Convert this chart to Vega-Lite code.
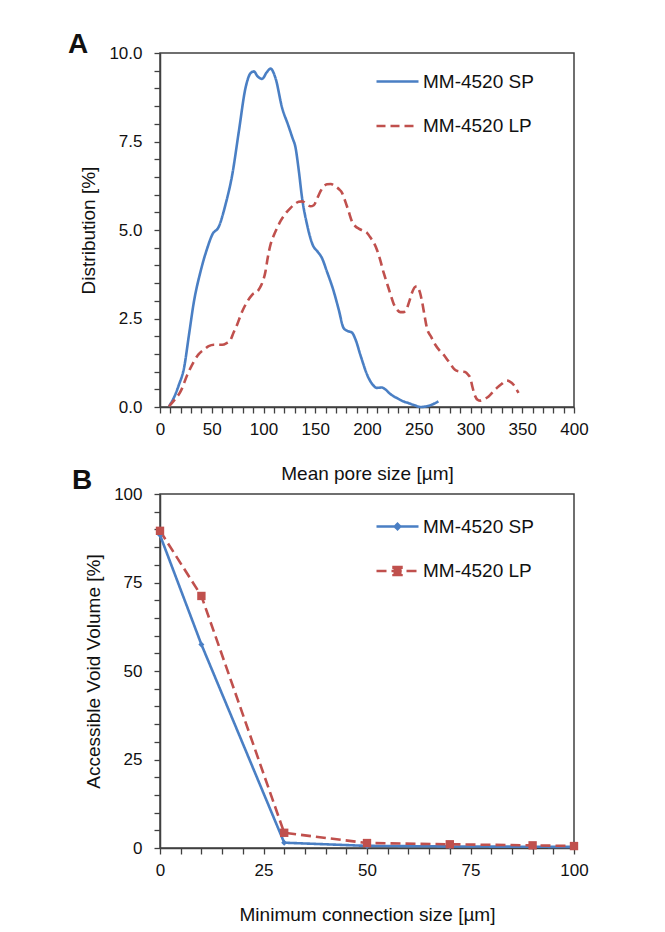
{
  "$schema": "https://vega.github.io/schema/vega-lite/v6.json",
  "padding": {"left": 67, "top": 30, "right": 0, "bottom": 0},
  "autosize": {"type": "pad"},
  "spacing": -18,
  "background": "white",
  "config": {
    "font": "Liberation Sans",
    "view": {"stroke": "#404040", "strokeWidth": 1.5},
    "axis": {
      "grid": false,
      "domainColor": "#404040",
      "domainWidth": 1.5,
      "tickColor": "#404040",
      "tickWidth": 1.3,
      "tickSize": 6,
      "labelFont": "Liberation Sans",
      "labelFontSize": 17,
      "labelColor": "#111111",
      "labelOverlap": false,
      "labelFlush": false,
      "titleFont": "Liberation Sans",
      "titleFontSize": 19,
      "titleFontWeight": "normal",
      "titleColor": "#111111"
    },
    "axisX": {"labelPadding": 8, "titlePadding": 27},
    "axisY": {"labelPadding": 12, "titlePadding": 10},
    "legend": {
      "title": null,
      "orient": "none",
      "labelFont": "Liberation Sans",
      "labelFontSize": 19,
      "labelColor": "#111111",
      "symbolType": "stroke",
      "symbolSize": 1764,
      "symbolStrokeWidth": 2.5,
      "labelOffset": 3,
      "padding": 0,
      "rowPadding": 11.5
    },
    "title": {"font": "Liberation Sans", "fontSize": 28, "fontWeight": "bold", "color": "#111111", "anchor": "start", "frame": "group"}
  },
  "datasets": {
    "dist": [
      {"x": 8.7, "y": 0.02, "series": "MM-4520 SP"},
      {"x": 14, "y": 0.3, "series": "MM-4520 SP"},
      {"x": 18.3, "y": 0.63, "series": "MM-4520 SP"},
      {"x": 23.2, "y": 1.1, "series": "MM-4520 SP"},
      {"x": 28, "y": 2.04, "series": "MM-4520 SP"},
      {"x": 32.8, "y": 2.98, "series": "MM-4520 SP"},
      {"x": 39.2, "y": 3.83, "series": "MM-4520 SP"},
      {"x": 45.7, "y": 4.49, "series": "MM-4520 SP"},
      {"x": 50.5, "y": 4.87, "series": "MM-4520 SP"},
      {"x": 56.9, "y": 5.1, "series": "MM-4520 SP"},
      {"x": 63.3, "y": 5.72, "series": "MM-4520 SP"},
      {"x": 69.8, "y": 6.56, "series": "MM-4520 SP"},
      {"x": 76.2, "y": 7.79, "series": "MM-4520 SP"},
      {"x": 82.6, "y": 9.01, "series": "MM-4520 SP"},
      {"x": 87.5, "y": 9.43, "series": "MM-4520 SP"},
      {"x": 90.7, "y": 9.48, "series": "MM-4520 SP"},
      {"x": 94, "y": 9.35, "series": "MM-4520 SP"},
      {"x": 98.7, "y": 9.27, "series": "MM-4520 SP"},
      {"x": 103, "y": 9.45, "series": "MM-4520 SP"},
      {"x": 106.8, "y": 9.56, "series": "MM-4520 SP"},
      {"x": 111.6, "y": 9.29, "series": "MM-4520 SP"},
      {"x": 118, "y": 8.45, "series": "MM-4520 SP"},
      {"x": 124, "y": 7.95, "series": "MM-4520 SP"},
      {"x": 128, "y": 7.6, "series": "MM-4520 SP"},
      {"x": 130.8, "y": 7.35, "series": "MM-4520 SP"},
      {"x": 134, "y": 6.7, "series": "MM-4520 SP"},
      {"x": 137.3, "y": 5.9, "series": "MM-4520 SP"},
      {"x": 142.1, "y": 5.15, "series": "MM-4520 SP"},
      {"x": 148, "y": 4.55, "series": "MM-4520 SP"},
      {"x": 152, "y": 4.4, "series": "MM-4520 SP"},
      {"x": 156.6, "y": 4.2, "series": "MM-4520 SP"},
      {"x": 161, "y": 3.85, "series": "MM-4520 SP"},
      {"x": 167.8, "y": 3.27, "series": "MM-4520 SP"},
      {"x": 172.7, "y": 2.75, "series": "MM-4520 SP"},
      {"x": 177.4, "y": 2.23, "series": "MM-4520 SP"},
      {"x": 181, "y": 2.15, "series": "MM-4520 SP"},
      {"x": 185.5, "y": 2.1, "series": "MM-4520 SP"},
      {"x": 189, "y": 1.9, "series": "MM-4520 SP"},
      {"x": 193.5, "y": 1.48, "series": "MM-4520 SP"},
      {"x": 201.5, "y": 0.82, "series": "MM-4520 SP"},
      {"x": 205, "y": 0.65, "series": "MM-4520 SP"},
      {"x": 209.6, "y": 0.54, "series": "MM-4520 SP"},
      {"x": 214, "y": 0.55, "series": "MM-4520 SP"},
      {"x": 217.6, "y": 0.5, "series": "MM-4520 SP"},
      {"x": 222, "y": 0.38, "series": "MM-4520 SP"},
      {"x": 229, "y": 0.25, "series": "MM-4520 SP"},
      {"x": 235, "y": 0.16, "series": "MM-4520 SP"},
      {"x": 240, "y": 0.11, "series": "MM-4520 SP"},
      {"x": 246, "y": 0.05, "series": "MM-4520 SP"},
      {"x": 251.4, "y": 0.0, "series": "MM-4520 SP"},
      {"x": 257.8, "y": 0.02, "series": "MM-4520 SP"},
      {"x": 263, "y": 0.07, "series": "MM-4520 SP"},
      {"x": 269, "y": 0.16, "series": "MM-4520 SP"},
      {"x": 8.7, "y": 0.02, "series": "MM-4520 LP"},
      {"x": 14, "y": 0.2, "series": "MM-4520 LP"},
      {"x": 19.9, "y": 0.44, "series": "MM-4520 LP"},
      {"x": 26.4, "y": 0.91, "series": "MM-4520 LP"},
      {"x": 32.8, "y": 1.29, "series": "MM-4520 LP"},
      {"x": 37, "y": 1.48, "series": "MM-4520 LP"},
      {"x": 42.4, "y": 1.62, "series": "MM-4520 LP"},
      {"x": 47, "y": 1.72, "series": "MM-4520 LP"},
      {"x": 52.1, "y": 1.76, "series": "MM-4520 LP"},
      {"x": 60.1, "y": 1.76, "series": "MM-4520 LP"},
      {"x": 64, "y": 1.8, "series": "MM-4520 LP"},
      {"x": 68.2, "y": 1.9, "series": "MM-4520 LP"},
      {"x": 71, "y": 2.1, "series": "MM-4520 LP"},
      {"x": 74.6, "y": 2.33, "series": "MM-4520 LP"},
      {"x": 78, "y": 2.6, "series": "MM-4520 LP"},
      {"x": 82.6, "y": 2.89, "series": "MM-4520 LP"},
      {"x": 89, "y": 3.17, "series": "MM-4520 LP"},
      {"x": 95, "y": 3.3, "series": "MM-4520 LP"},
      {"x": 98, "y": 3.45, "series": "MM-4520 LP"},
      {"x": 101.9, "y": 3.83, "series": "MM-4520 LP"},
      {"x": 104, "y": 4.2, "series": "MM-4520 LP"},
      {"x": 106.8, "y": 4.59, "series": "MM-4520 LP"},
      {"x": 110, "y": 4.85, "series": "MM-4520 LP"},
      {"x": 113.2, "y": 5.06, "series": "MM-4520 LP"},
      {"x": 116.4, "y": 5.25, "series": "MM-4520 LP"},
      {"x": 119.6, "y": 5.4, "series": "MM-4520 LP"},
      {"x": 126, "y": 5.62, "series": "MM-4520 LP"},
      {"x": 131, "y": 5.75, "series": "MM-4520 LP"},
      {"x": 134.1, "y": 5.8, "series": "MM-4520 LP"},
      {"x": 137.3, "y": 5.81, "series": "MM-4520 LP"},
      {"x": 142.1, "y": 5.72, "series": "MM-4520 LP"},
      {"x": 145.4, "y": 5.67, "series": "MM-4520 LP"},
      {"x": 148.6, "y": 5.7, "series": "MM-4520 LP"},
      {"x": 152, "y": 5.9, "series": "MM-4520 LP"},
      {"x": 155, "y": 6.09, "series": "MM-4520 LP"},
      {"x": 158.2, "y": 6.23, "series": "MM-4520 LP"},
      {"x": 161.4, "y": 6.29, "series": "MM-4520 LP"},
      {"x": 165, "y": 6.3, "series": "MM-4520 LP"},
      {"x": 169.5, "y": 6.23, "series": "MM-4520 LP"},
      {"x": 173, "y": 6.15, "series": "MM-4520 LP"},
      {"x": 175.9, "y": 6.05, "series": "MM-4520 LP"},
      {"x": 179, "y": 5.81, "series": "MM-4520 LP"},
      {"x": 182, "y": 5.55, "series": "MM-4520 LP"},
      {"x": 185.5, "y": 5.24, "series": "MM-4520 LP"},
      {"x": 189, "y": 5.1, "series": "MM-4520 LP"},
      {"x": 192, "y": 5.04, "series": "MM-4520 LP"},
      {"x": 196, "y": 4.98, "series": "MM-4520 LP"},
      {"x": 200, "y": 4.92, "series": "MM-4520 LP"},
      {"x": 203, "y": 4.8, "series": "MM-4520 LP"},
      {"x": 206.4, "y": 4.65, "series": "MM-4520 LP"},
      {"x": 209.5, "y": 4.45, "series": "MM-4520 LP"},
      {"x": 212.8, "y": 4.15, "series": "MM-4520 LP"},
      {"x": 216, "y": 3.8, "series": "MM-4520 LP"},
      {"x": 219.3, "y": 3.5, "series": "MM-4520 LP"},
      {"x": 222.5, "y": 3.2, "series": "MM-4520 LP"},
      {"x": 225.7, "y": 2.92, "series": "MM-4520 LP"},
      {"x": 229, "y": 2.75, "series": "MM-4520 LP"},
      {"x": 232.2, "y": 2.68, "series": "MM-4520 LP"},
      {"x": 235, "y": 2.68, "series": "MM-4520 LP"},
      {"x": 238, "y": 2.75, "series": "MM-4520 LP"},
      {"x": 241, "y": 3.0, "series": "MM-4520 LP"},
      {"x": 243.4, "y": 3.22, "series": "MM-4520 LP"},
      {"x": 246, "y": 3.38, "series": "MM-4520 LP"},
      {"x": 248.3, "y": 3.41, "series": "MM-4520 LP"},
      {"x": 251, "y": 3.25, "series": "MM-4520 LP"},
      {"x": 253.1, "y": 2.99, "series": "MM-4520 LP"},
      {"x": 255.5, "y": 2.6, "series": "MM-4520 LP"},
      {"x": 257.9, "y": 2.23, "series": "MM-4520 LP"},
      {"x": 262, "y": 1.98, "series": "MM-4520 LP"},
      {"x": 266, "y": 1.76, "series": "MM-4520 LP"},
      {"x": 270, "y": 1.6, "series": "MM-4520 LP"},
      {"x": 274, "y": 1.48, "series": "MM-4520 LP"},
      {"x": 278, "y": 1.32, "series": "MM-4520 LP"},
      {"x": 282.1, "y": 1.15, "series": "MM-4520 LP"},
      {"x": 285, "y": 1.05, "series": "MM-4520 LP"},
      {"x": 288.5, "y": 1.01, "series": "MM-4520 LP"},
      {"x": 294.9, "y": 0.99, "series": "MM-4520 LP"},
      {"x": 298, "y": 0.9, "series": "MM-4520 LP"},
      {"x": 299.8, "y": 0.82, "series": "MM-4520 LP"},
      {"x": 302, "y": 0.55, "series": "MM-4520 LP"},
      {"x": 304.6, "y": 0.3, "series": "MM-4520 LP"},
      {"x": 307, "y": 0.2, "series": "MM-4520 LP"},
      {"x": 309.4, "y": 0.18, "series": "MM-4520 LP"},
      {"x": 313, "y": 0.22, "series": "MM-4520 LP"},
      {"x": 317.5, "y": 0.3, "series": "MM-4520 LP"},
      {"x": 321.5, "y": 0.42, "series": "MM-4520 LP"},
      {"x": 325.5, "y": 0.54, "series": "MM-4520 LP"},
      {"x": 330, "y": 0.65, "series": "MM-4520 LP"},
      {"x": 335.1, "y": 0.75, "series": "MM-4520 LP"},
      {"x": 338, "y": 0.72, "series": "MM-4520 LP"},
      {"x": 341.6, "y": 0.63, "series": "MM-4520 LP"},
      {"x": 344, "y": 0.52, "series": "MM-4520 LP"},
      {"x": 346.4, "y": 0.4, "series": "MM-4520 LP"}
    ],
    "access": [
      {"x": 0, "y": 88.4, "series": "MM-4520 SP"},
      {"x": 10, "y": 57.5, "series": "MM-4520 SP"},
      {"x": 30, "y": 1.5, "series": "MM-4520 SP"},
      {"x": 50, "y": 0.6, "series": "MM-4520 SP"},
      {"x": 70, "y": 0.45, "series": "MM-4520 SP"},
      {"x": 90, "y": 0.35, "series": "MM-4520 SP"},
      {"x": 100, "y": 0.3, "series": "MM-4520 SP"},
      {"x": 0, "y": 89.6, "series": "MM-4520 LP"},
      {"x": 10, "y": 71.2, "series": "MM-4520 LP"},
      {"x": 30, "y": 4.3, "series": "MM-4520 LP"},
      {"x": 50, "y": 1.4, "series": "MM-4520 LP"},
      {"x": 70, "y": 1.05, "series": "MM-4520 LP"},
      {"x": 90, "y": 0.75, "series": "MM-4520 LP"},
      {"x": 100, "y": 0.55, "series": "MM-4520 LP"}
    ]
  },
  "resolve": {
    "scale": {"x": "independent", "y": "independent", "color": "independent", "strokeDash": "independent"},
    "legend": {"color": "independent", "strokeDash": "independent"}
  },
  "vconcat": [
    {
      "width": 414,
      "height": 354,
      "title": {"text": "A", "dx": -92, "offset": -15.3},
      "data": {"name": "dist"},
      "mark": {"type": "line", "interpolate": "monotone", "strokeWidth": 2.6},
      "encoding": {
        "x": {
          "field": "x", "type": "quantitative",
          "scale": {"domain": [0, 400], "nice": false},
          "axis": {
            "title": "Mean pore size [µm]",
            "values": [0,10,20,30,40,50,60,70,80,90,100,110,120,130,140,150,160,170,180,190,200,210,220,230,240,250,260,270,280,290,300,310,320,330,340,350,360,370,380,390,400],
            "labelExpr": "datum.value % 50 === 0 ? datum.label : ''"
          }
        },
        "y": {
          "field": "y", "type": "quantitative",
          "scale": {"domain": [0, 10], "nice": false},
          "axis": {
            "title": "Distribution [%]",
            "values": [0,0.5,1,1.5,2,2.5,3,3.5,4,4.5,5,5.5,6,6.5,7,7.5,8,8.5,9,9.5,10],
            "labelExpr": "datum.value % 2.5 === 0 ? format(datum.value, '.1f') : ''"
          }
        },
        "color": {
          "field": "series", "type": "nominal",
          "scale": {"domain": ["MM-4520 SP", "MM-4520 LP"], "range": ["#4a7fc4", "#c0504d"]},
          "legend": {"legendX": 215, "legendY": 6}
        },
        "strokeDash": {
          "field": "series", "type": "nominal",
          "scale": {"domain": ["MM-4520 SP", "MM-4520 LP"], "range": [[1, 0], [9, 5]]},
          "legend": {"legendX": 215, "legendY": 6}
        }
      }
    },
    {
      "width": 414,
      "height": 354,
      "title": {"text": "B", "dx": -88, "offset": -10},
      "data": {"name": "access"},
      "encoding": {
        "x": {
          "field": "x", "type": "quantitative",
          "scale": {"domain": [0, 100], "nice": false},
          "axis": {
            "title": "Minimum connection size [µm]",
            "values": [0,5,10,15,20,25,30,35,40,45,50,55,60,65,70,75,80,85,90,95,100],
            "labelExpr": "datum.value % 25 === 0 ? datum.label : ''"
          }
        },
        "y": {
          "field": "y", "type": "quantitative",
          "scale": {"domain": [0, 100], "nice": false},
          "axis": {
            "title": "Accessible Void Volume [%]",
            "values": [0,5,10,15,20,25,30,35,40,45,50,55,60,65,70,75,80,85,90,95,100],
            "labelExpr": "datum.value % 25 === 0 ? datum.label : ''"
          }
        }
      },
      "layer": [
        {
          "mark": {"type": "line", "strokeWidth": 2.6},
          "encoding": {
            "color": {
              "field": "series", "type": "nominal",
              "scale": {"domain": ["MM-4520 SP", "MM-4520 LP"], "range": ["#4a7fc4", "#c0504d"]},
              "legend": {
                "legendX": 215, "legendY": 10,
                "encode": {
                  "symbols": {
                    "update": {
                      "shape": {"signal": "datum.value === 'MM-4520 SP' ? 'M-1,0H1M-0.13,0L0,-0.13L0.13,0L0,0.13Z' : 'M-1,0H1M-0.19,-0.19H0.19V0.19H-0.19Z'"},
                      "fill": {"signal": "datum.value === 'MM-4520 SP' ? '#4a7fc4' : '#c0504d'"}
                    }
                  }
                }
              }
            },
            "strokeDash": {
              "field": "series", "type": "nominal",
              "scale": {"domain": ["MM-4520 SP", "MM-4520 LP"], "range": [[1, 0], [10, 5]]},
              "legend": {"legendX": 215, "legendY": 10}
            }
          }
        },
        {
          "mark": {"type": "point", "filled": true, "opacity": 1},
          "encoding": {
            "shape": {"condition": {"test": "datum.series === 'MM-4520 SP'", "value": "diamond"}, "value": "square"},
            "size": {"condition": {"test": "datum.series === 'MM-4520 SP'", "value": 36}, "value": 70},
            "color": {"condition": {"test": "datum.series === 'MM-4520 SP'", "value": "#4a7fc4"}, "value": "#c0504d"}
          }
        }
      ]
    }
  ]
}
